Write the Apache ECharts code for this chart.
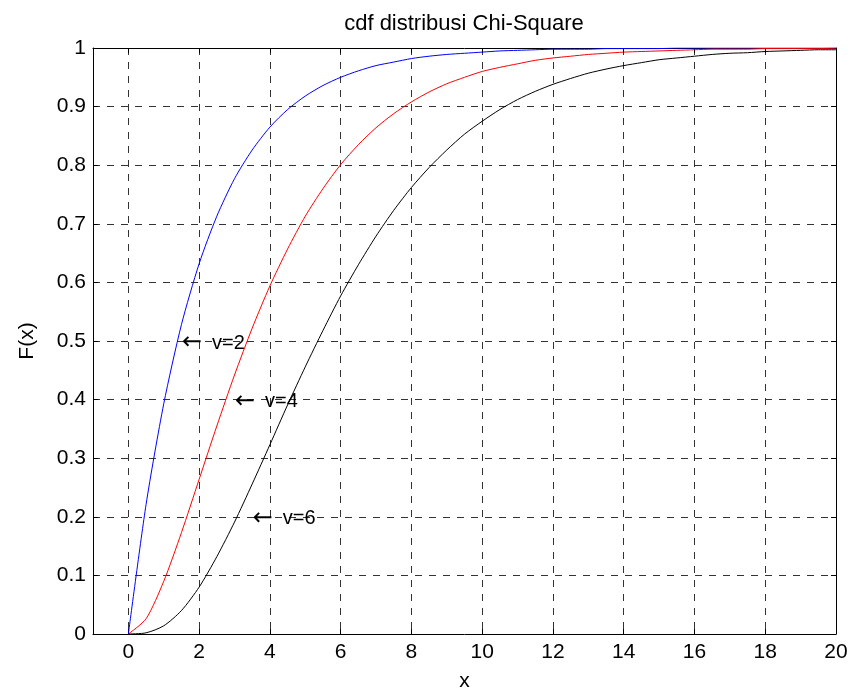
<!DOCTYPE html>
<html>
<head>
<meta charset="utf-8">
<title>cdf distribusi Chi-Square</title>
<script src="https://cdn.jsdelivr.net/npm/echarts@6/dist/echarts.min.js"></script>
<style>
  html, body { margin: 0; padding: 0; background: #fff; }
  #chart { width: 856px; height: 692px; }
</style>
</head>
<body>
<div id="chart"></div>
<script>
// values, x step 0.5
const xs = [0, 0.5, 1, 1.5, 2, 2.5, 3, 3.5, 4, 4.5, 5, 5.5, 6, 6.5, 7, 7.5, 8, 8.5, 9, 9.5, 10,
    10.5, 11, 11.5, 12, 12.5, 13, 13.5, 14, 14.5, 15, 15.5, 16, 16.5, 17, 17.5, 18, 18.5, 19, 19.5, 20];
const cdfV2 = [0, 0.221, 0.393, 0.528, 0.632, 0.713, 0.777, 0.826, 0.865, 0.895, 0.918,
    0.936, 0.950, 0.961, 0.970, 0.976, 0.982, 0.986, 0.989, 0.991, 0.993,
    0.995, 0.996, 0.997, 0.998, 0.998, 0.998, 0.999, 0.999, 0.999, 0.999,
    1, 1, 1, 1, 1, 1, 1, 1, 1, 1];
const cdfV4 = [0, 0.026, 0.090, 0.173, 0.264, 0.355, 0.442, 0.522, 0.594, 0.657, 0.713,
    0.760, 0.801, 0.835, 0.864, 0.888, 0.908, 0.925, 0.939, 0.950, 0.960,
    0.967, 0.973, 0.979, 0.983, 0.986, 0.989, 0.991, 0.993, 0.994, 0.995,
    0.996, 0.997, 0.998, 0.998, 0.998, 0.999, 0.999, 0.999, 0.999, 1];
const cdfV6 = [0, 0.002, 0.014, 0.040, 0.080, 0.132, 0.191, 0.256, 0.323, 0.391, 0.456,
    0.518, 0.577, 0.630, 0.679, 0.723, 0.762, 0.796, 0.826, 0.853, 0.875,
    0.895, 0.912, 0.926, 0.938, 0.948, 0.957, 0.964, 0.970, 0.975, 0.980,
    0.983, 0.986, 0.989, 0.991, 0.992, 0.994, 0.995, 0.996, 0.997, 0.997];

const xTicks = [0, 2, 4, 6, 8, 10, 12, 14, 16, 18, 20];
const notes = [
    [1.5, 0.5, "v=2"],
    [3, 0.4, "v=4"],
    [3.5, 0.2, "v=6"],
];

const font = "Liberation Sans, Arial, sans-serif";
const gridDash = { color: "#333", type: [7, 7], width: 1 };

const pairs = (ys) => xs.map((x, i) => [x, ys[i]]);

const chart = echarts.init(document.getElementById("chart"), null, { renderer: "canvas" });

const lineSeries = (name, ys, color) => ({
    name: name,
    type: "line",
    data: pairs(ys),
    symbol: "none",
    smooth: 0.25,
    lineStyle: { color: color, width: 1 },
    clip: true,
    z: 3,
});

chart.setOption({
    animation: false,
    backgroundColor: "#fff",
    title: {
        text: "cdf distribusi Chi-Square",
        left: 459,
        textAlign: "center",
        top: 8,
        textStyle: { fontFamily: font, fontSize: 22, fontWeight: "normal", color: "#000" },
    },
    grid: {
        left: 93, right: 20, top: 48, bottom: 58,
        containLabel: false,
        outerBoundsMode: "none",
        show: false,
    },
    xAxis: [
        {
            type: "value",
            min: -1,
            max: 20,
            position: "bottom",
            name: "x",
            nameLocation: "middle",
            nameGap: 37,
            nameTextStyle: { fontFamily: font, fontSize: 21, color: "#000" },
            axisLine: { show: true, onZero: false, lineStyle: { color: "#000", width: 1 } },
            axisTick: { show: true, inside: true, length: 5, customValues: xTicks, lineStyle: { color: "#000" } },
            axisLabel: { customValues: xTicks, margin: 8, fontFamily: font, fontSize: 21, color: "#000" },
            splitLine: { show: true, lineStyle: gridDash },
        },
        {
            type: "value",
            min: -1,
            max: 20,
            position: "top",
            axisLine: { show: true, onZero: false, lineStyle: { color: "#000", width: 1 } },
            axisTick: { show: true, inside: true, length: 5, customValues: xTicks, lineStyle: { color: "#000" } },
            axisLabel: { show: false },
            splitLine: { show: false },
        },
    ],
    yAxis: [
        {
            type: "value",
            min: 0,
            max: 1,
            interval: 0.1,
            position: "left",
            name: "F(x)",
            nameLocation: "middle",
            nameGap: 55,
            nameTextStyle: { fontFamily: font, fontSize: 21, color: "#000" },
            axisLine: { show: true, onZero: false, lineStyle: { color: "#000", width: 1 } },
            axisTick: { show: true, inside: true, length: 5, lineStyle: { color: "#000" } },
            axisLabel: {
                margin: 7,
                fontFamily: font,
                fontSize: 21,
                color: "#000",
                formatter: (v) => String(Math.round(v * 10) / 10),
            },
            splitLine: { show: true, lineStyle: gridDash },
        },
        {
            type: "value",
            min: 0,
            max: 1,
            interval: 0.1,
            position: "right",
            axisLine: { show: true, onZero: false, lineStyle: { color: "#000", width: 1 } },
            axisTick: { show: true, inside: true, length: 5, lineStyle: { color: "#000" } },
            axisLabel: { show: false },
            splitLine: { show: false },
        },
    ],
    series: [
        lineSeries("v=2", cdfV2, "#0000ff"),
        lineSeries("v=4", cdfV4, "#ff0000"),
        lineSeries("v=6", cdfV6, "#000000"),
        {
            name: "notes",
            type: "scatter",
            data: notes,
            symbolSize: 1,
            itemStyle: { color: "transparent", opacity: 1 },
            silent: true,
            z: 4,
            label: {
                show: true,
                position: "right",
                distance: 0,
                offset: [0, 2],
                opacity: 1,
                formatter: (p) => "{a|\u2190}{t|" + p.data[2] + "}",
                rich: {
                    a: { fontFamily: "DejaVu Sans", fontSize: 24, color: "#000", width: 30 },
                    t: { fontFamily: font, fontSize: 20, color: "#000" },
                },
            },
        },
    ],
});
</script>
</body>
</html>
